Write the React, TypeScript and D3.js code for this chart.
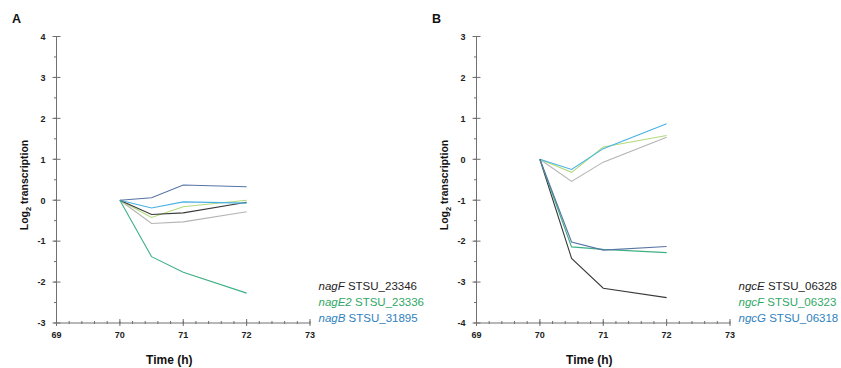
import React from "react";
import * as d3 from "d3";

const times = [70, 70.5, 71, 72];
const xTicks = [69, 70, 71, 72, 73];
const yTicksA = [-3, -2, -1, 0, 1, 2, 3, 4];
const yTicksB = [-4, -3, -2, -1, 0, 1, 2, 3];

// Panel A
const nagF_1 = [0, -0.35, -0.31, -0.05];
const nagF_2 = [0, -0.57, -0.53, -0.28];
const nagE2_1 = [0, -1.38, -1.76, -2.27];
const nagE2_2 = [0, -0.42, -0.16, 0.0];
const nagB_1 = [0, 0.06, 0.37, 0.33];
const nagB_2 = [0, -0.19, -0.04, -0.07];

// Panel B
const ngcE_1 = [0, -2.42, -3.15, -3.38];
const ngcE_2 = [0, -0.54, -0.07, 0.54];
const ngcF_1 = [0, -2.14, -2.2, -2.28];
const ngcF_2 = [0, -0.32, 0.3, 0.58];
const ngcG_1 = [0, -2.02, -2.22, -2.13];
const ngcG_2 = [0, -0.25, 0.26, 0.87];

const legendA = [
  { gene: "nagF", id: "STSU_23346", color: "#1e1e1e" },
  { gene: "nagE2", id: "STSU_23336", color: "#2fa866" },
  { gene: "nagB", id: "STSU_31895", color: "#2f7fbd" },
];
const legendB = [
  { gene: "ngcE", id: "STSU_06328", color: "#1e1e1e" },
  { gene: "ngcF", id: "STSU_06323", color: "#2fa866" },
  { gene: "ngcG", id: "STSU_06318", color: "#2f7fbd" },
];

const FONT = "'Liberation Sans', Arial, sans-serif";
const AXIS = "#707070";

type Series = { values: number[]; color: string };

const seriesA: Series[] = [
  { values: nagF_2, color: "#b4b4b4" },
  { values: nagE2_2, color: "#b2da7c" },
  { values: nagF_1, color: "#3a3a3a" },
  { values: nagB_2, color: "#47b2e2" },
  { values: nagB_1, color: "#5874a6" },
  { values: nagE2_1, color: "#3eb083" },
];
const seriesB: Series[] = [
  { values: ngcE_2, color: "#b4b4b4" },
  { values: ngcF_2, color: "#b2da7c" },
  { values: ngcG_2, color: "#47b2e2" },
  { values: ngcE_1, color: "#3a3a3a" },
  { values: ngcF_1, color: "#3eb083" },
  { values: ngcG_1, color: "#5874a6" },
];

function Panel(props: {
  label: string;
  x0: number;
  yDomain: [number, number];
  yTicks: number[];
  series: Series[];
  legend: { gene: string; id: string; color: string }[];
}) {
  const { label, x0, yDomain, yTicks, series, legend } = props;
  const x = d3.scaleLinear().domain([69, 73]).range([x0, x0 + 253.5]);
  const y = d3.scaleLinear().domain(yDomain).range([323, 36.5]);
  const line = d3
    .line<number>()
    .x((_, i) => x(times[i]))
    .y((v) => y(v));
  const xMinor = d3.range(69, 73.001, 0.2).map((v) => +v.toFixed(1));
  const yMinor = d3.range(yDomain[0], yDomain[1] + 0.001, 0.5);
  const yBase = y(yDomain[0]);
  const midX = x(71) - 14;
  return (
    <g>
      <text x={x0 - 44.5} y={23} fontFamily={FONT} fontWeight="bold" fontSize={12.5} fill="#111">
        {label}
      </text>
      {/* y axis */}
      <line x1={x0} x2={x0} y1={y(yDomain[1])} y2={yBase} stroke={AXIS} strokeWidth={1} />
      {yMinor.map((v) => (
        <line key={"ym" + v} x1={x0 - 2.5} x2={x0} y1={y(v)} y2={y(v)} stroke={AXIS} strokeWidth={1} />
      ))}
      {yTicks.map((v) => (
        <g key={"y" + v}>
          <line x1={x0 - 4} x2={x0 + 4} y1={y(v)} y2={y(v)} stroke={AXIS} strokeWidth={1} />
          <text
            x={x0 - 11}
            y={y(v) + 3.3}
            textAnchor="end"
            fontFamily={FONT}
            fontWeight="bold"
            fontSize={9}
            fill="#222"
          >
            {v}
          </text>
        </g>
      ))}
      {/* x axis */}
      <line x1={x(69)} x2={x(73)} y1={yBase} y2={yBase} stroke={AXIS} strokeWidth={1} />
      {xMinor.map((v) => (
        <line key={"xm" + v} x1={x(v)} x2={x(v)} y1={yBase - 2} y2={yBase + 1} stroke={AXIS} strokeWidth={1} />
      ))}
      {xTicks.map((v) => (
        <g key={"x" + v}>
          <line x1={x(v)} x2={x(v)} y1={yBase - 4} y2={yBase + 3} stroke={AXIS} strokeWidth={1} />
          <text
            x={x(v)}
            y={338}
            textAnchor="middle"
            fontFamily={FONT}
            fontWeight="bold"
            fontSize={9}
            fill="#222"
          >
            {v}
          </text>
        </g>
      ))}
      <text x={midX} y={364} textAnchor="middle" fontFamily={FONT} fontWeight="bold" fontSize={12} fill="#111">
        Time (h)
      </text>
      <text
        transform={`translate(${x0 - 29},185) rotate(-90)`}
        textAnchor="middle"
        fontFamily={FONT}
        fontWeight="bold"
        fontSize={10.5}
        fill="#111"
      >
        Log
        <tspan fontSize={7.5} dy={3}>2</tspan>
        <tspan dy={-3}> transcription</tspan>
      </text>
      {series.map((s, i) => (
        <path key={i} d={line(s.values) || ""} fill="none" stroke={s.color} strokeWidth={1.1} />
      ))}
      {legend.map((l, i) => (
        <text
          key={l.gene}
          x={x(73) + 8.5}
          y={290 + i * 16}
          fontFamily={FONT}
          fontSize={11.5}
          fill={l.color}
        >
          <tspan fontStyle="italic">{l.gene}</tspan> {l.id}
        </text>
      ))}
    </g>
  );
}

export default function App() {
  return (
    <svg
      width={841}
      height={368}
      style={{ position: "absolute", left: 0, top: 0, background: "#fff" }}
    >
      <rect width={841} height={368} fill="#fff" />
      <Panel label="A" x0={56.5} yDomain={[-3, 4]} yTicks={yTicksA} series={seriesA} legend={legendA} />
      <Panel label="B" x0={476.5} yDomain={[-4, 3]} yTicks={yTicksB} series={seriesB} legend={legendB} />
    </svg>
  );
}
